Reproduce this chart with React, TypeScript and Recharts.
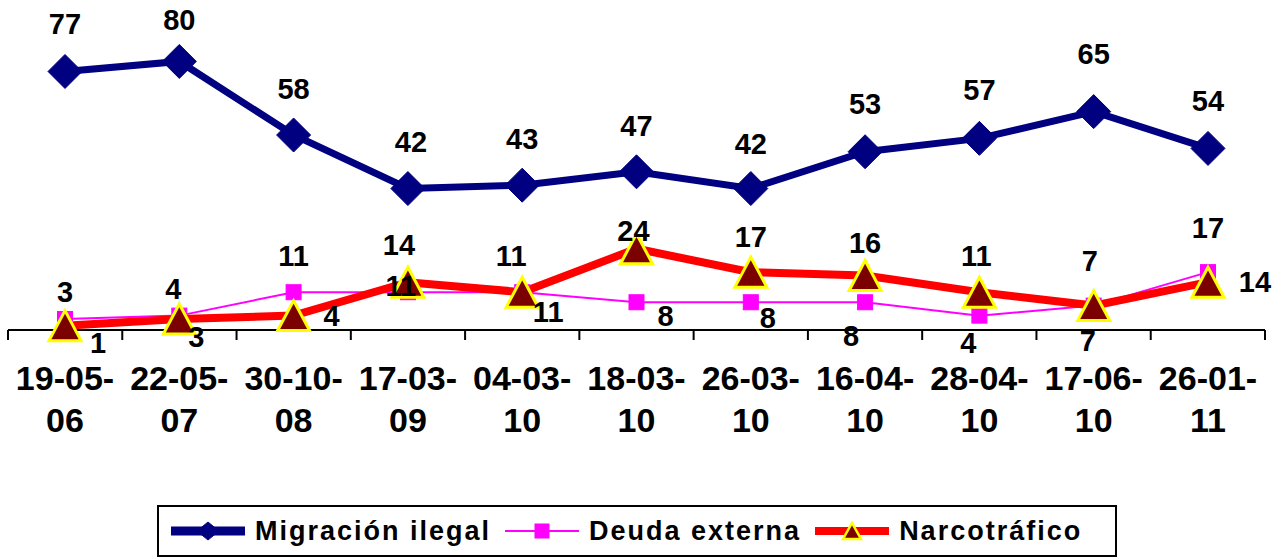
import React from 'react';
import { LineChart, Line, XAxis, YAxis, LabelList, Legend } from 'recharts';

// fechas de las encuestas
const fechas = ['19-05-06', '22-05-07', '30-10-08', '17-03-09', '04-03-10', '18-03-10', '26-03-10', '16-04-10', '28-04-10', '17-06-10', '26-01-11'];
const migracion = [77, 80, 58, 42, 43, 47, 42, 53, 57, 65, 54];
const deudaExterna = [3, 4, 11, 11, 11, 8, 8, 8, 4, 7, 17];
const narcotrafico = [1, 3, 4, 14, 11, 24, 17, 16, 11, 7, 14];
const marcas = [0, 1, 2, 3, 4, 5, 6, 7, 8, 9, 10, 11];

const data = fechas.map((fecha, i) => ({
  fecha,
  pos: i + 0.5,
  mig: migracion[i],
  deuda: deudaExterna[i],
  narco: narcotrafico[i],
}));

const FONT = '"Liberation Sans", Arial, sans-serif';
const NAVY = '#000080';
const MAGENTA = '#FF00FF';
const RED = '#FF0000';

// where each value label sits relative to its point [dx, dy]
const migNudge = [[0, -47], [0, -41], [0, -46], [3, -47], [0, -46], [0, -46], [0, -45], [0, -48], [0, -48], [0, -58], [0, -47]];
const deudaNudge = [[0, -27], [-6, -27], [0, -36], [-7, -6], [26, 20], [29, 14], [17, 16], [-14, 34], [-11, 27], [-6, 35], [0, -44]];
const narcoNudge = [[33, 17], [17, 18], [38, 0], [-9, -37], [-11, -36], [-3, -18], [0, -35], [0, -32], [-3, -36], [-4, -45], [47, 0]];

const makeLabel = (nudge: number[][]) => (props: any) => {
  const { x, y, value, index } = props;
  const [dx, dy] = nudge[index] || [0, -30];
  return (
    <text x={x + dx} y={y + dy} textAnchor="middle" dominantBaseline="central"
      fontFamily={FONT} fontWeight="bold" fontSize={29} fill="#000">
      {value}
    </text>
  );
};

const Diamond = (props: any) => {
  const { cx, cy, small } = props;
  if (cx == null || cy == null) return null;
  const w = small ? 11 : 17;
  const h = small ? 9 : 17;
  return <polygon points={`${cx},${cy - h} ${cx + w},${cy} ${cx},${cy + h} ${cx - w},${cy}`} fill={NAVY} stroke={NAVY} />;
};

const Square = (props: any) => {
  const { cx, cy, small } = props;
  if (cx == null || cy == null) return null;
  const s = small ? 14 : 15;
  return <rect x={cx - s / 2} y={cy - s / 2} width={s} height={s} fill={MAGENTA} stroke={MAGENTA} />;
};

const Triangle = (props: any) => {
  const { cx, cy, small } = props;
  if (cx == null || cy == null) return null;
  const w = small ? 9 : 16;
  const h = small ? 8 : 15;
  return (
    <polygon points={`${cx},${cy - h} ${cx + w},${cy + h} ${cx - w},${cy + h}`}
      fill="#7B0000" stroke="#FFFF00" strokeWidth={small ? 2.5 : 3} strokeLinejoin="miter" />
  );
};

const FechaTick = (props: any) => {
  const { x, y, payload } = props;
  const txt: string = payload.value;
  return (
    <text x={x} y={y} textAnchor="middle" fontFamily={FONT} fontWeight="bold" fontSize={34} fill="#000">
      <tspan x={x} dy={61}>{txt.slice(0, 6)}</tspan>
      <tspan x={x} dy={42}>{txt.slice(6)}</tspan>
    </text>
  );
};

const NoTick = () => <g />;

const legendItems = [
  { name: 'Migración ilegal', color: NAVY, width: 9, Marker: Diamond },
  { name: 'Deuda externa', color: MAGENTA, width: 2, Marker: Square },
  { name: 'Narcotráfico', color: RED, width: 8, Marker: Triangle },
];

const LegendBox = () => (
  <div style={{
    width: 944, height: 48, border: '2px solid #000', background: '#fff',
    display: 'flex', alignItems: 'center', paddingLeft: 12, boxSizing: 'content-box',
    fontFamily: FONT, fontWeight: 'bold', fontSize: 27, letterSpacing: 2, color: '#000',
  }}>
    {legendItems.map((it) => (
      <div key={it.name} style={{ display: 'flex', alignItems: 'center', marginRight: 14 }}>
        <svg width={74} height={24} style={{ marginRight: 10 }}>
          <line x1={0} x2={74} y1={12} y2={12} stroke={it.color} strokeWidth={it.width} />
          <it.Marker cx={37} cy={12} small />
        </svg>
        <span>{it.name}</span>
      </div>
    ))}
  </div>
);

export default function App() {
  return (
    <div style={{ position: 'absolute', left: 0, top: 0, background: '#fff' }}>
      <LineChart width={1274} height={557} data={data} margin={{ top: 28, right: 9, bottom: 226, left: 8 }}>
        <XAxis xAxisId="marcas" dataKey="pos" type="number" domain={[0, 11]} ticks={marcas} allowDataOverflow
          tick={<NoTick />} tickSize={10} height={1} interval={0}
          axisLine={{ stroke: '#000', strokeWidth: 2 }} tickLine={{ stroke: '#000', strokeWidth: 2 }} />
        <XAxis xAxisId="cat" dataKey="fecha" height={1} padding={{ left: 57, right: 57 }}
          axisLine={false} tickLine={false} tickSize={0} tickMargin={0} interval={0} tick={<FechaTick />} />
        <YAxis hide domain={[0, 90]} />
        <Line xAxisId="cat" dataKey="mig" stroke={NAVY} strokeWidth={7} dot={<Diamond />} activeDot={false} isAnimationActive={false} />
        <Line xAxisId="cat" dataKey="deuda" stroke={MAGENTA} strokeWidth={2} dot={<Square />} activeDot={false} isAnimationActive={false} />
        <Line xAxisId="cat" dataKey="narco" stroke={RED} strokeWidth={8} dot={<Triangle />} activeDot={false} isAnimationActive={false} />
        {/* etiquetas encima de todo */}
        <Line xAxisId="cat" dataKey="mig" stroke="none" dot={false} activeDot={false} isAnimationActive={false} legendType="none">
          <LabelList dataKey="mig" content={makeLabel(migNudge)} />
        </Line>
        <Line xAxisId="cat" dataKey="deuda" stroke="none" dot={false} activeDot={false} isAnimationActive={false} legendType="none">
          <LabelList dataKey="deuda" content={makeLabel(deudaNudge)} />
        </Line>
        <Line xAxisId="cat" dataKey="narco" stroke="none" dot={false} activeDot={false} isAnimationActive={false} legendType="none">
          <LabelList dataKey="narco" content={makeLabel(narcoNudge)} />
        </Line>
        <Legend verticalAlign="middle" layout="horizontal" content={<LegendBox />}
          wrapperStyle={{ left: 157, top: 505, width: 960, height: 52 }} />
      </LineChart>
    </div>
  );
}
